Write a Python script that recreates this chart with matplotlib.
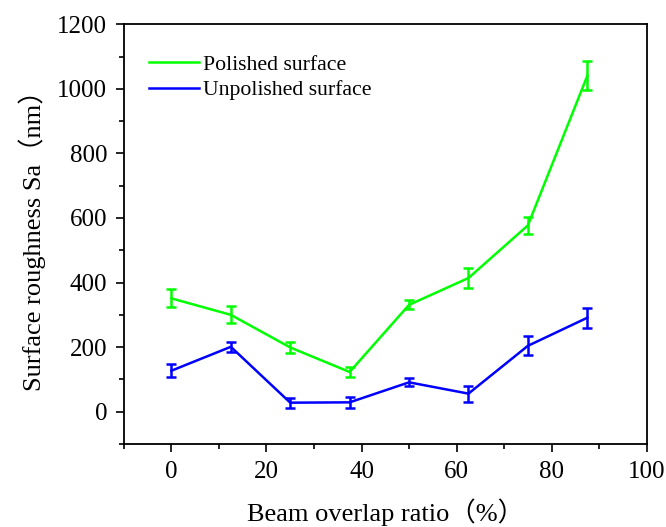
import numpy as np
import matplotlib
matplotlib.use('Agg')
import matplotlib.pyplot as plt
from matplotlib.ticker import MultipleLocator
from matplotlib.lines import Line2D

plt.rcParams['font.family'] = ['Liberation Serif', 'Noto Sans CJK SC']

# beam overlap ratio (%)
overlap = [0, 12.5, 25, 37.5, 50, 62.5, 75, 87.5]
# surface roughness Sa (nm)
polished = [351, 300, 199, 123, 331, 414, 577, 1040]
polished_err = [28, 26, 17, 14, 14, 31, 26, 45]
unpolished = [127, 201, 28, 29, 91, 56, 204, 291]
unpolished_err = [20, 15, 15, 17, 12, 25, 29, 31]

green = '#00ff00'
blue = '#0000ff'

fig = plt.figure(figsize=(6.66, 5.27), dpi=100)
ax = fig.add_axes([0.186, 0.1575, 0.785, 0.7965])

ax.errorbar(overlap, polished, yerr=polished_err, color=green, lw=1.8,
            elinewidth=1.8, capsize=3.3, capthick=1.8)
ax.errorbar(overlap, unpolished, yerr=unpolished_err, color=blue, lw=1.8,
            elinewidth=1.8, capsize=3.3, capthick=1.8)

ax.set_xlim(-10, 100)
ax.set_ylim(-100, 1200)
ax.xaxis.set_major_locator(MultipleLocator(20))
ax.xaxis.set_minor_locator(MultipleLocator(10))
ax.yaxis.set_major_locator(MultipleLocator(200))
ax.yaxis.set_minor_locator(MultipleLocator(100))
ax.tick_params(which='both', direction='out', width=1.2, labelsize=18, pad=6)
ax.tick_params(which='major', length=6)
ax.tick_params(which='minor', length=3.5)
for s in ax.spines.values():
    s.set_linewidth(1.3)

ax.set_xlabel('Beam overlap ratio（%）', fontsize=19, labelpad=11)
ax.set_ylabel('Surface roughness Sa（nm）', fontsize=19, labelpad=8)

handles = [Line2D([], [], color=green, lw=1.8), Line2D([], [], color=blue, lw=1.8)]
ax.legend(handles, ['Polished surface', 'Unpolished surface'], loc='upper left',
          frameon=False, fontsize=15.7, handlelength=2.3, handletextpad=0.2,
          labelspacing=0.25, bbox_to_anchor=(0.01, 0.975))

fig.savefig('out.png', dpi=100)
